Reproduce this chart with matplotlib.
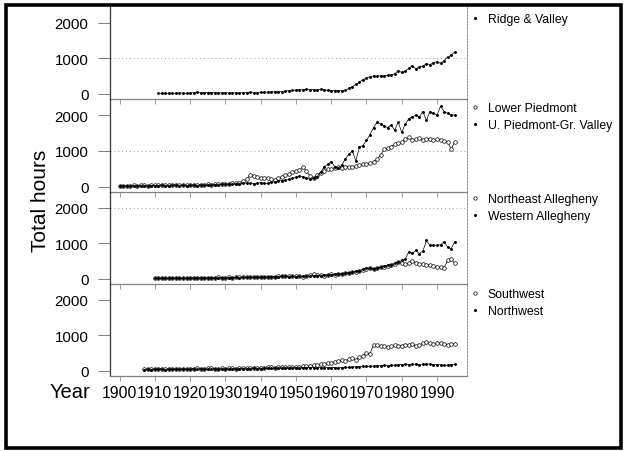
import numpy as np
import matplotlib
matplotlib.use('Agg')
import matplotlib.pyplot as plt
from matplotlib.lines import Line2D
from matplotlib.patches import Rectangle

plt.rcParams['font.family'] = ['Liberation Sans', 'DejaVu Sans']

# ---- data (hours per year) ----
yr_ridge = np.arange(1911, 1996)
ridge_valley = [10, 12, 15, 12, 10, 15, 18, 14, 12, 15,
                30, 35, 25, 30, 28, 32, 25, 20, 22, 25,
                20, 22, 25, 20, 28, 30, 35, 30, 25, 35,
                40, 45, 50, 55, 60, 55, 70, 90, 95, 100,
                110, 105, 120, 115, 110, 100, 120, 110, 95, 90,
                85, 90, 80, 95, 150, 200, 260, 330, 400, 440,
                480, 500, 490, 510, 500, 520, 530, 560, 650, 600,
                640, 720, 790, 700, 760, 780, 850, 820, 880, 900,
                860, 930, 1040, 1080, 1180]

yr_pied = np.arange(1900, 1996)
lower_piedmont = [20, 25, 30, 25, 35, 30, 40, 35, 30, 45,
                  40, 35, 50, 45, 40, 50, 55, 45, 50, 40,
                  45, 50, 40, 55, 50, 60, 55, 65, 60, 70,
                  75, 80, 90, 100, 110, 150, 200, 320, 290, 260,
                  240, 230, 250, 210, 190, 230, 280, 320, 350, 400,
                  430, 470, 540, 430, 300, 240, 330, 380, 450, 480,
                  500, 520, 540, 530, 550, 560, 550, 580, 600, 620,
                  640, 660, 700, 760, 880, 1050, 1080, 1120, 1180, 1220,
                  1240, 1330, 1380, 1300, 1320, 1350, 1300, 1320, 1340, 1290,
                  1330, 1310, 1280, 1250, 1050, 1250]
upper_piedmont = [10, 15, 20, 15, 25, 20, 25, 30, 20, 30,
                  25, 30, 35, 30, 25, 35, 40, 30, 35, 30,
                  35, 40, 30, 45, 40, 50, 45, 55, 50, 60,
                  60, 65, 70, 75, 80, 90, 100, 90, 80, 100,
                  110, 100, 90, 120, 130, 150, 170, 180, 200, 230,
                  260, 300, 280, 250, 200, 240, 280, 400, 550, 620,
                  700, 560, 520, 600, 780, 900, 1000, 720, 1100, 1150,
                  1300, 1450, 1650, 1800, 1750, 1700, 1650, 1720, 1580, 1800,
                  1520, 1750, 1900, 1950, 2000, 1950, 2100, 1850, 2100, 2050,
                  2000, 2250, 2100, 2050, 2000, 2000]

yr_alle = np.arange(1910, 1996)
ne_allegheny = [20, 15, 25, 20, 10, 15, 20, 25, 20, 15,
                20, 25, 20, 30, 25, 20, 30, 25, 35, 30,
                30, 35, 30, 40, 35, 45, 40, 50, 45, 55,
                60, 55, 50, 45, 60, 70, 80, 90, 75, 70,
                65, 70, 60, 80, 100, 120, 110, 100, 90, 110,
                120, 110, 130, 140, 150, 160, 180, 200, 220, 250,
                280, 300, 260, 290, 320, 340, 360, 380, 420, 480,
                440, 420, 430, 500, 450, 420, 410, 400, 380, 360,
                330, 320, 300, 520, 560, 430]
w_allegheny = [10, 12, 15, 10, 12, 15, 18, 15, 12, 15,
               15, 18, 20, 15, 20, 22, 25, 20, 25, 28,
               25, 30, 28, 35, 30, 35, 40, 35, 45, 40,
               45, 50, 55, 50, 55, 60, 65, 70, 60, 65,
               60, 65, 70, 75, 70, 80, 85, 90, 100, 110,
               110, 120, 130, 140, 150, 170, 190, 210, 230, 260,
               290, 310, 280, 300, 330, 350, 380, 400, 430, 460,
               520, 560, 760, 720, 800, 710, 780, 1080, 940, 950,
               940, 960, 1040, 900, 850, 1040]

yr_west = np.arange(1907, 1996)
southwest = [40, 45, 50,
             50, 55, 60, 50, 45, 55, 60, 50, 55, 60,
             55, 60, 65, 60, 55, 65, 70, 60, 55, 65,
             60, 70, 65, 60, 70, 75, 80, 85, 90, 80,
             85, 90, 100, 95, 90, 100, 110, 100, 95, 105,
             100, 110, 120, 130, 140, 150, 160, 180, 200, 220,
             230, 250, 260, 300, 280, 320, 350, 300, 380, 410,
             500, 480, 730, 720, 700, 690, 680, 700, 720, 690,
             710, 740, 720, 760, 700, 720, 780, 820, 780, 760,
             770, 790, 750, 740, 760, 750]
northwest = [30, 35, 30,
             35, 40, 35, 30, 35, 40, 35, 40, 45, 40,
             40, 45, 40, 50, 45, 40, 45, 50, 45, 50,
             50, 45, 55, 50, 55, 60, 55, 60, 65, 60,
             60, 65, 70, 65, 70, 75, 70, 80, 75, 80,
             80, 75, 85, 80, 90, 85, 80, 90, 85, 90,
             90, 85, 80, 90, 95, 100, 105, 110, 115, 120,
             120, 125, 130, 135, 140, 150, 145, 150, 160, 170,
             175, 180, 170, 180, 185, 175, 180, 190, 185, 175,
             170, 165, 150, 160, 175, 180]

panels = [
    [(yr_ridge, ridge_valley, 'Ridge & Valley', 'dot')],
    [(yr_pied, lower_piedmont, 'Lower Piedmont', 'circle'),
     (yr_pied, upper_piedmont, 'U. Piedmont-Gr. Valley', 'dot')],
    [(yr_alle, ne_allegheny, 'Northeast Allegheny', 'circle'),
     (yr_alle, w_allegheny, 'Western Allegheny', 'dot')],
    [(yr_west, southwest, 'Southwest', 'circle'),
     (yr_west, northwest, 'Northwest', 'dot')],
]
decades = np.arange(1900, 2000, 10)

W, H = 625, 452
fig = plt.figure(figsize=(W / 100, H / 100), dpi=100)

# panel edges in pixels from top, legend offsets below each panel top
edges = [8, 100, 193, 285, 377]
leg_off = [6, 3, 1, 4]
left, right = 110, 467

styles = {
    'circle': dict(marker='o', markersize=2.6, markerfacecolor='white',
                   markeredgecolor='black', markeredgewidth=0.5),
    'dot': dict(marker='.', markersize=2.2, markerfacecolor='black',
                markeredgecolor='black'),
}

for i, series in enumerate(panels):
    top, bot = edges[i], edges[i + 1]
    ax = fig.add_axes([left / W, 1 - bot / H, (right - left) / W, (bot - top) / H])
    for yrs, vals, name, kind in series:
        ax.plot(yrs, vals, color='black', lw=0.5, **styles[kind])
    ax.set_xlim(1897.3, 1998.5)
    ax.set_ylim(-150, 2450)
    ax.set_yticks([0, 1000, 2000])
    ax.tick_params(axis='y', direction='out', length=8.5, width=0.6,
                   pad=7, labelsize=10.8, color='0.4')
    ax.set_xticks(decades)
    ax.tick_params(axis='x', direction='out', length=3.5, width=0.6,
                   color='0.55', pad=3, labelsize=11.3)
    if i < 3:
        ax.tick_params(axis='x', labelbottom=False)
    ax.spines['top'].set_visible(False)
    ax.spines['right'].set_linestyle((0, (1.5, 1.5)))
    ax.spines['right'].set_color('0.6')
    ax.spines['right'].set_linewidth(0.8)
    ax.spines['bottom'].set_color('0.5')
    ax.spines['bottom'].set_linewidth(0.9)
    ax.spines['left'].set_color('0.2')
    ax.spines['left'].set_linewidth(0.9)
    ax.set_facecolor('none')
    if i in (0, 1):
        ax.axhline(1000, ls=(0, (1, 3)), color='0.6', lw=0.7, zorder=0)
    if i == 2:
        ax.axhline(2000, ls=(0, (1, 3)), color='0.6', lw=0.7, zorder=0)

    handles = [Line2D([], [], ls='none', **dict(styles[k], markersize=2.4))
               for _, _, _, k in series]
    labels = [s[2] for s in series]
    ax.legend(handles, labels, loc='upper left',
              bbox_to_anchor=(471 / W, 1 - (top + leg_off[i]) / H),
              bbox_transform=fig.transFigure, frameon=False, fontsize=8.8,
              handlelength=0.6, handletextpad=0.75, borderaxespad=0,
              borderpad=0, labelspacing=0.42)

fig.text(40 / W, 1 - 201 / H, 'Total hours', rotation=90, fontsize=15,
         ha='center', va='center')
fig.text(50 / W, 1 - 393 / H, 'Year', fontsize=14.5, ha='left', va='center')

fig.patches.append(Rectangle((6 / W, 1 - 449 / H), 615 / W, 443 / H,
                             transform=fig.transFigure, fill=False,
                             edgecolor='black', linewidth=2.6))

fig.savefig('out.png', dpi=100)
